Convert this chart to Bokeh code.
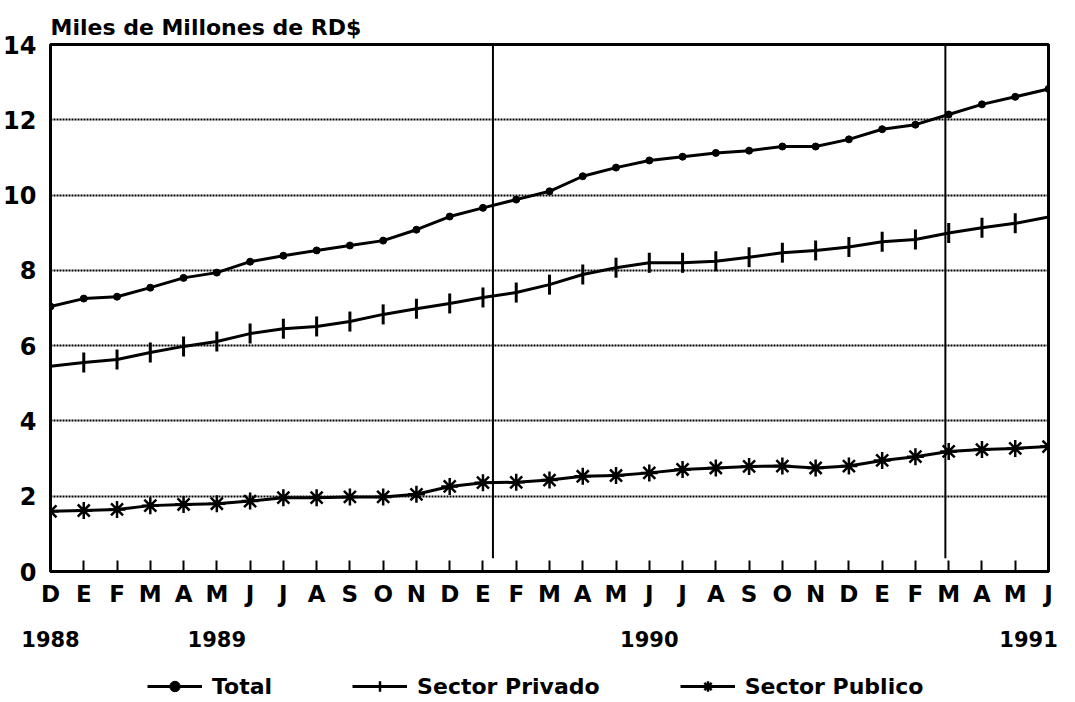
import numpy as np
from bokeh.plotting import figure
from bokeh.layouts import column
from bokeh.models import Range1d, FixedTicker, LinearAxis, Legend, LegendItem
from bokeh.embed import file_html
from bokeh.resources import INLINE

# ---- data ----
months = ["D", "E", "F", "M", "A", "M", "J", "J", "A", "S", "O", "N",
          "D", "E", "F", "M", "A", "M", "J", "J", "A", "S", "O", "N",
          "D", "E", "F", "M", "A", "M", "J"]
total = [7.04, 7.25, 7.30, 7.54, 7.80, 7.94, 8.23, 8.39, 8.53, 8.66, 8.79, 9.08,
         9.43, 9.66, 9.88, 10.10, 10.50, 10.73, 10.92, 11.02, 11.12, 11.18, 11.29, 11.29,
         11.48, 11.75, 11.87, 12.14, 12.41, 12.61, 12.82]
privado = [5.45, 5.55, 5.63, 5.82, 5.98, 6.11, 6.32, 6.45, 6.51, 6.64, 6.83, 6.98,
           7.12, 7.28, 7.41, 7.62, 7.89, 8.07, 8.20, 8.20, 8.24, 8.35, 8.47, 8.53,
           8.62, 8.76, 8.82, 8.99, 9.13, 9.25, 9.42]
publico = [1.60, 1.62, 1.65, 1.75, 1.78, 1.80, 1.87, 1.96, 1.96, 1.98, 1.98, 2.05,
           2.26, 2.36, 2.37, 2.43, 2.53, 2.55, 2.62, 2.71, 2.75, 2.79, 2.80, 2.75,
           2.80, 2.95, 3.05, 3.19, 3.24, 3.27, 3.32]
series_names = ["Total", "Sector Privado", "Sector Publico"]
year_labels = ["1988", "1989", "1990", "1991"]
year_pos = [0, 5, 18, 29.4]
divider_x = [13.3, 26.9]
y_ticks = [0, 2, 4, 6, 8, 10, 12, 14]

x = list(range(len(months)))
FONT = "DejaVu Sans"

p = figure(frame_width=998, frame_height=527, x_range=Range1d(0, 30), y_range=Range1d(0, 14),
           output_backend="svg", toolbar_location=None,
           min_border_left=46, min_border_right=18, min_border_top=44, min_border_bottom=88)

p.title.text = "Miles de Millones de RD$"
p.title.text_font = FONT
p.title.text_font_size = "22px"
p.title.text_font_style = "bold"
p.title.text_color = "black"
p.title.align = "left"
p.title.standoff = 9

p.outline_line_color = "black"
p.outline_line_width = 3
p.background_fill_color = "white"
p.border_fill_color = "white"

# grids
p.xgrid.grid_line_color = None
p.ygrid.ticker = FixedTicker(ticks=y_ticks)
p.ygrid.grid_line_color = "black"
p.ygrid.grid_line_width = 2
p.ygrid.grid_line_dash = "2 1"

# y axis
p.yaxis.ticker = FixedTicker(ticks=y_ticks)
p.yaxis.axis_line_color = None
p.yaxis.major_tick_line_color = None
p.yaxis.minor_tick_line_color = None
p.yaxis.major_label_text_font = FONT
p.yaxis.major_label_text_font_size = "24px"
p.yaxis.major_label_text_font_style = "bold"
p.yaxis.major_label_text_color = "black"
p.yaxis.major_label_standoff = 8

# x axis (months)
p.xaxis.ticker = FixedTicker(ticks=x)
p.xaxis.major_label_overrides = {i: m for i, m in enumerate(months)}
p.xaxis.axis_line_color = "black"
p.xaxis.axis_line_width = 3
p.xaxis.major_tick_in = 11
p.xaxis.major_tick_out = 0
p.xaxis.major_tick_line_width = 2
p.xaxis.major_tick_line_color = "black"
p.xaxis.minor_tick_line_color = None
p.xaxis.major_label_text_font = FONT
p.xaxis.major_label_text_font_size = "23px"
p.xaxis.major_label_text_font_style = "bold"
p.xaxis.major_label_text_color = "black"
p.xaxis.major_label_standoff = 9

# year axis
yax = LinearAxis(ticker=FixedTicker(ticks=year_pos),
                 major_label_overrides={v: t for v, t in zip(year_pos, year_labels)})
yax.axis_line_color = None
yax.major_tick_line_color = None
yax.minor_tick_line_color = None
yax.major_label_text_font = FONT
yax.major_label_text_font_size = "21px"
yax.major_label_text_font_style = "bold"
yax.major_label_text_color = "black"
yax.major_label_standoff = 15
p.add_layout(yax, "below")

# divider lines
p.segment(x0=divider_x, y0=[0.35] * len(divider_x), x1=divider_x, y1=[14] * len(divider_x),
          line_color="black", line_width=2)

# series
p.line(x, total, line_color="black", line_width=3)
p.scatter(x, total, marker="circle", size=7, fill_color="black", line_color="black")
p.line(x, privado, line_color="black", line_width=3)
p.scatter(x, privado, marker="dash", angle=np.pi / 2, size=20, line_color="black", line_width=3)
p.line(x, publico, line_color="black", line_width=3)
p.scatter(x, publico, marker="asterisk", size=17, line_color="black", line_width=2.5)

# ---- legend strip: separate figure; its sample renderers hold the first data point,
# which lies outside this strip's view, so only the legend glyphs are seen ----
lf = figure(width=1062, height=40, output_backend="svg", toolbar_location=None,
            x_range=Range1d(100, 101), y_range=Range1d(100, 101),
            x_axis_location=None, y_axis_location=None,
            min_border_left=0, min_border_right=0, min_border_top=0, min_border_bottom=0)
lf.grid.grid_line_color = None
lf.outline_line_color = None
lf.border_fill_color = "white"
lf.background_fill_color = "white"

markers = ["circle", "cross", "asterisk"]
values = [total, privado, publico]
items = []
for name, mk, vals in zip(series_names, markers, values):
    ln = lf.line(x=x[:2], y=vals[:2], line_color="black", line_width=3)
    if mk == "circle":
        sc = lf.scatter(x=x[:1], y=vals[:1], marker=mk, fill_color="black", line_color="black")
    else:
        sc = lf.scatter(x=x[:1], y=vals[:1], marker=mk, line_color="black", line_width=2.5)
    items.append(LegendItem(label=name, renderers=[ln, sc]))

legend = Legend(items=items, orientation="horizontal", location=(97, 0),
                border_line_color=None, background_fill_alpha=0,
                label_text_font=FONT, label_text_font_size="22px", label_text_font_style="bold",
                label_text_color="black",
                glyph_width=55, glyph_height=26, spacing=80, label_standoff=10,
                margin=0, padding=0)
lf.add_layout(legend, "center")

layout = column(p, lf, spacing=0)
open("out.html", "w").write(file_html(layout, INLINE))
